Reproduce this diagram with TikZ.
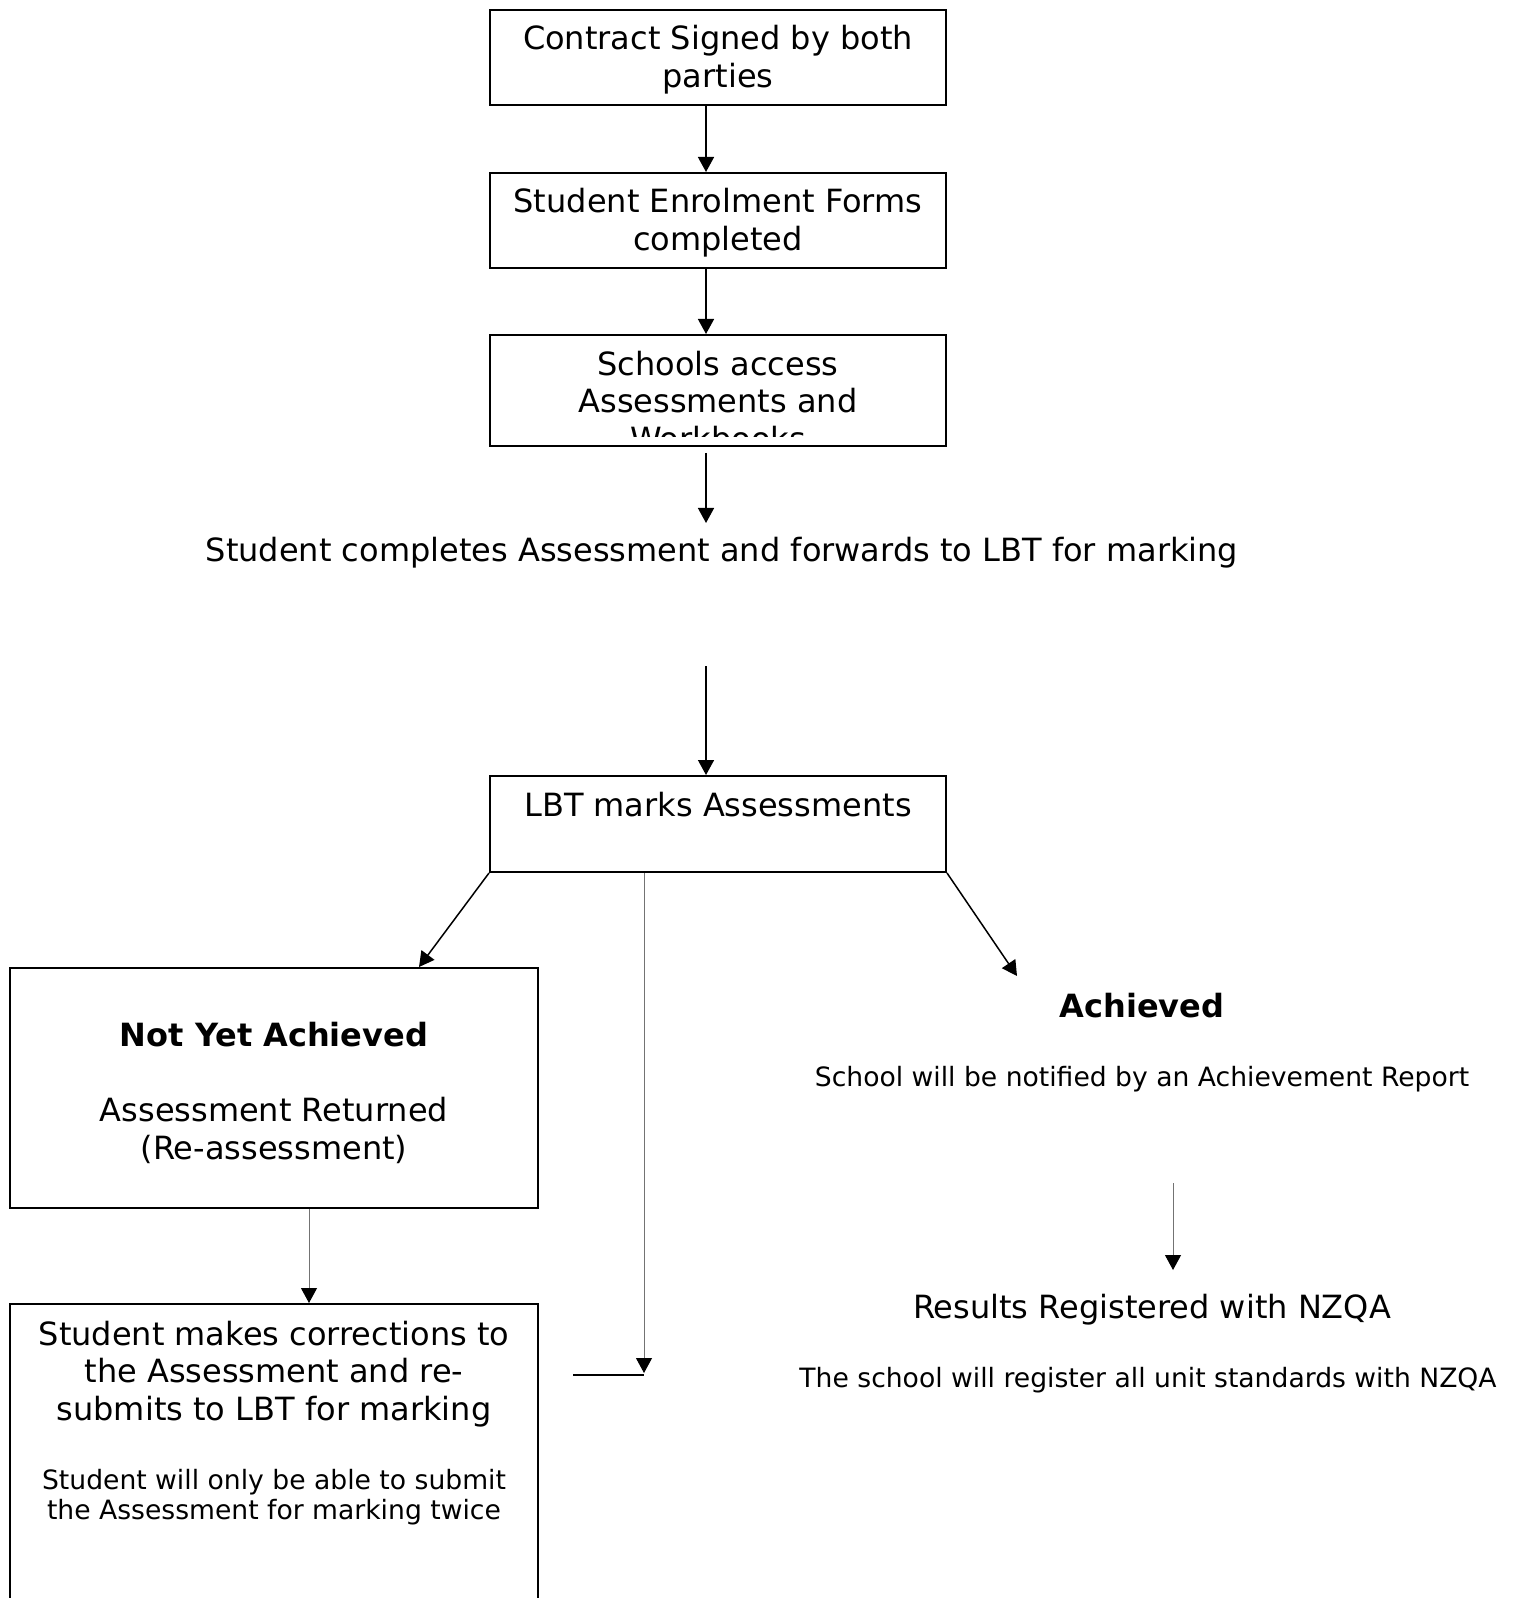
\documentclass[tikz,border=0pt]{standalone}
\usepackage{fontspec}
\setmainfont{DejaVu Sans}
\usetikzlibrary{arrows.meta}
\tikzset{
  box/.style={draw, line width=1pt, inner sep=0pt, align=center},
  big/.style={font=\fontsize{16pt}{18.85pt}\selectfont, align=center, inner sep=0pt},
  small/.style={font=\fontsize{13.3pt}{15.3pt}\selectfont, align=center, inner sep=0pt},
  arr/.style={-{Triangle[length=7.5pt,width=8pt]}, line width=0.75pt},
  thinarr/.style={-{Triangle[length=7.5pt,width=8pt,color=black]}, line width=0.5pt, black!55}
}
\begin{document}
\begin{tikzpicture}[x=0.5pt,y=-0.5pt]
          \useasboundingbox (0,0) rectangle (1512,1598);
          % top column
          \node[box, minimum width=228pt, minimum height=47.5pt] (box0) at (718,57.5){};
          \node[big] (txt0) at (718,60){Contract Signed by both\\parties};
          \node[box, minimum width=228pt, minimum height=47.5pt] (box1) at (718,220.5){};
          \node[big] (txt1) at (718,223){Student Enrolment Forms\\completed};
          \node[box, minimum width=228pt, minimum height=55.5pt] (box2) at (718,390.5){};
          \begin{scope}
            \clip (490,335) rectangle (946,437);
            \node[big] (txt2) at (718,401){Schools access\\Assessments and\\Workbooks};
          \end{scope}
          \node[big] (txt3) at (722,553){Student completes Assessment and forwards to LBT for marking};
          \node[box, minimum width=228pt, minimum height=48pt] (box4) at (718,824){};
          \node[big] (txt4) at (718,805){LBT marks Assessments};
          % left branch
          \node[box, minimum width=264pt, minimum height=120pt] (box5) at (274,1088){};
          \node[big] (txt5) at (274,1093){\textbf{Not Yet Achieved}\\[18.85pt]Assessment Returned\\(Re-assessment)};
          \node[box, minimum width=264pt, minimum height=153pt] (box6) at (274,1457){};
          \node[big] (txt6) at (274,1374){Student makes corrections to\\the Assessment and re-\\submits to LBT for marking};
          \node[small] (txt6b) at (274,1497){Student will only be able to submit\\the Assessment for marking twice};
          % right branch
          \node[big] (txt7) at (1142,1006){\textbf{Achieved}};
          \node[small] (txt7b) at (1142,1079){School will be notified by an Achievement Report};
          \node[big] (txt8) at (1152,1310){Results Registered with NZQA};
          \node[small] (txt8b) at (1148,1380){The school will register all unit standards with NZQA};
          % free ends
          \coordinate (c0) at (706,453);
          \coordinate (c1) at (706,523);
          \coordinate (c2) at (706,666);
          \coordinate (c3) at (1017,976);
          \coordinate (c4) at (644,1373);
          \coordinate (c5) at (573,1375);
          \coordinate (c6) at (1173,1183);
          \coordinate (c7) at (1173,1270);
          \draw[arr](box0.south -| c0) -- (box1.north -| c0);
          \draw[arr](box1.south -| c0) -- (box2.north -| c0);
          \draw[arr](c0) -- (c1);
          \draw[arr](c2) -- (box4.north -| c2);
          \draw[arr](box4.south west) -- (box5.north -| 419,0);
          \draw[arr](box4.south east) -- (c3);
          \draw[thinarr](box4.south -| c4) -- (c4);
          \draw[line width=0.6pt](c5) -- (c5 -| c4);
          \draw[thinarr](box5.south -| 309,0) -- (box6.north -| 309,0);
          \draw[thinarr](c6) -- (c7);
        \end{tikzpicture}
\end{document}
